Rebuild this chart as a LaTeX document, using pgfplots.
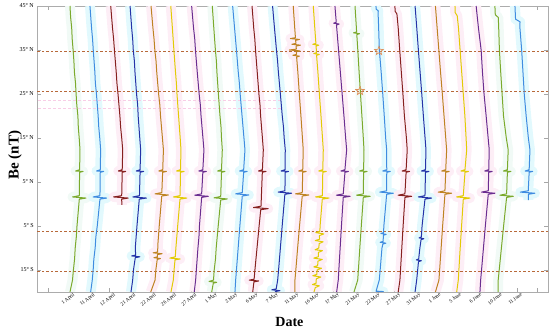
\documentclass[border=0pt]{standalone}
\usepackage{pgfplots}
\usepackage{pgfplotstable}
\pgfplotsset{compat=1.18}
\usepackage{fontspec}
\setmainfont{Liberation Serif}

\definecolor{cgreen}{HTML}{7AAA2C}
\definecolor{clblue}{HTML}{3F8CE0}
\definecolor{cdred}{HTML}{86201F}
\definecolor{cdblue}{HTML}{2434A8}
\definecolor{corange}{HTML}{BE8222}
\definecolor{cyellow}{HTML}{E2CB05}
\definecolor{cpurple}{HTML}{6B2D90}
\definecolor{bcyan}{HTML}{E2F9FD}
\definecolor{bpink}{HTML}{FDEEF6}
\definecolor{bgreen}{HTML}{F1FAF6}
\definecolor{dashcol}{HTML}{B8693A}
\definecolor{pinkdash}{HTML}{F8CDE6}
\definecolor{starcol}{HTML}{E0905A}

\pgfdeclareplotmark{ostar}{%
\pgfpathmoveto{\pgfpointpolar{90}{\pgfplotmarksize}}%
\pgfpathlineto{\pgfpointpolar{126}{0.42*\pgfplotmarksize}}%
\pgfpathlineto{\pgfpointpolar{162}{\pgfplotmarksize}}%
\pgfpathlineto{\pgfpointpolar{198}{0.42*\pgfplotmarksize}}%
\pgfpathlineto{\pgfpointpolar{234}{\pgfplotmarksize}}%
\pgfpathlineto{\pgfpointpolar{270}{0.42*\pgfplotmarksize}}%
\pgfpathlineto{\pgfpointpolar{306}{\pgfplotmarksize}}%
\pgfpathlineto{\pgfpointpolar{342}{0.42*\pgfplotmarksize}}%
\pgfpathlineto{\pgfpointpolar{18}{\pgfplotmarksize}}%
\pgfpathlineto{\pgfpointpolar{54}{0.42*\pgfplotmarksize}}%
\pgfpathclose\pgfusepathqstroke}

% each table: latitude (deg) and horizontal offset of the trace from its date tick (px)
\pgfplotstableread{
lat dx
45 1
42.5 1.6
40 2.7
37.5 3.2
35 4.1
32.5 4.9
30 5.4
27.5 6.5
25 7.1
22.5 7.8
20 8.9
17.5 9.3
15 10.2
12.3 11
7.8 10.6
7.5 6.6
7.4 14.1
7.2 10.6
1.9 10.3
1.6 3.5
1.35 17
1.1 10.3
-5 8
-7.5 7.3
-10 6.2
-12.5 5.6
-15 4.4
-17.3 3.5
-20 1
}\cvA
\pgfplotstableread{
lat dx
45 0.6
40 2.2
37.5 3.2
35 3.9
30 5.5
27.5 6.0
25 7.1
20 8.8
17.5 9.4
15 10.4
12.3 11.3
7.8 10.9
7.5 7.2
7.4 14.3
7.2 10.9
1.9 10.6
1.6 3.8
1.35 17.3
1.1 10.6
-5 7.9
-7.5 6.5
-10 5.8
-12.5 4.5
-15 3.8
-17.3 2.9
-20 1.3
}\cvB
\pgfplotstableread{
lat dx
45 1
40 2.8
37.5 3.9
35 4.7
30 6.5
27.5 7.2
25 8.3
20 10.2
17.5 10.9
15 12
12.3 13
7.8 12.5
7.5 8.6
7.4 16
7.2 12.5
1.9 12
1.6 3.8
1.35 18.5
1.1 12
-0.2 12.1
}\cvC
\pgfplotstableread{
lat dx
45 0
40 1.6
37.5 2.6
35 3.2
32.5 4.3
30 4.9
25 6.5
22.5 7.6
20 8.1
15 9.7
12.3 10.6
7.8 10
7.5 6.2
7.4 13.6
7.2 10
1.9 9.4
1.6 2.8
1.35 16.4
1.1 9.2
-5 6.9
-10 5.2
-11.6 5.6
-11.8 1.6
-12.0 9.8
-12.2 5.2
-15 3.4
-17.3 2.6
-20 0.9
}\cvD
\pgfplotstableread{
lat dx
45 0.6
40 2.5
37.5 3.6
35 4.4
32.5 5.6
30 6.3
25 8.2
22.5 9.4
20 10.1
15 12
12.3 13
7.8 12.3
7.5 8.4
7.4 16
7.2 12.2
2.6 11.4
2.3 4.6
2.05 18
1.8 11.3
-5 8.8
-9 7.5
-10.9 7.2
-11.1 2.7
-11.3 11.7
-11.5 6.9
-12 7
-12.2 3.5
-12.4 10
-12.6 6.8
-15 5.4
-17.3 4.6
-20 0.3
}\cvE
\pgfplotstableread{
lat dx
45 0
40 1.6
35 3.1
30 4.7
27.5 5.6
25 6.2
20 7.8
15 9.4
12.3 10.2
7.8 9.7
7.5 5.8
7.4 13.3
7.2 9.7
1.9 9.3
1.6 2.6
1.35 16
1.1 9.2
-5 6.9
-10 5.1
-12.0 4.5
-12.3 -1
-12.5 9.4
-12.7 4.2
-15 3.3
-17.3 2.5
-20 0.2
}\cvF
\pgfplotstableread{
lat dx
45 0.5
40 2.4
37.5 3.6
35 4.3
30 6.1
25 8.0
22.5 9.2
20 9.9
15 11.8
12.3 12.8
7.8 11.7
7.5 7.7
7.4 15.2
7.2 11.7
2.3 10.5
2.0 3.6
1.75 17.2
1.5 10.5
-5 8.3
-7.5 7.8
-10 6.8
-15 5.2
-17.3 4.5
-20 3.1
}\cvG
\pgfplotstableread{
lat dx
45 0.8
40 2.3
35 3.9
32.5 4.9
30 5.4
25 6.9
20 8.5
17.5 9.5
15 10
12.3 10.8
7.8 10
7.5 6.1
7.4 13.5
7.2 10
1.7 9.2
1.4 2.6
1.15 15.8
0.9 9.2
-5 6.7
-10 4.7
-12.5 4.0
-15 2.7
-17.3 2
-17.6 -2.5
-17.8 5.2
-18 1.8
-20 0.2
}\cvH
\pgfplotstableread{
lat dx
45 0.8
40 2.7
35 4.6
30 6.4
27.5 7.5
25 8.3
20 10.2
15 12.1
12.3 13.1
7.8 11.8
7.5 7.8
7.4 15.3
7.2 11.8
2.6 10.4
2.3 3.8
2.05 17
1.8 10.4
-5 8.0
-10 6.3
-15 4.6
-17.3 3.8
-20 3.1
}\cvI
\pgfplotstableread{
lat dx
45 -0.2
40 1.5
37.5 2.6
35 3.3
30 5.0
25 6.7
22.5 7.8
20 8.4
15 10.2
12.3 11.1
7.8 10.2
7.5 6.3
7.4 13.8
7.2 10.1
-0.5 8.8
-0.8 1.3
-1.05 16
-1.3 8.5
-5 6.9
-10 4.8
-15 2.7
-17.1 1.9
-17.3 -3
-17.5 6.5
-17.7 1.7
-20 0.5
}\cvJ
\pgfplotstableread{
lat dx
45 0
40 1.9
35 3.9
32.5 5.0
30 5.8
25 7.8
20 9.7
17.5 10.9
15 11.6
12.3 12.7
7.8 12.5
7.5 8.5
7.4 16
7.2 12.5
3.0 12.4
2.7 5.6
2.45 19
2.2 12.3
-5 9.6
-10 7.8
-15 6.0
-17.3 5.1
-19.3 3.6
-19.5 -0.8
-19.7 7.4
-19.9 3
-20 2.4
}\cvK
\pgfplotstableread{
lat dx
45 0.3
40 1.8
37.8 2.5
37.6 -2.5
37.4 6.5
37.2 2.7
36.5 3
36.3 -1
36.1 7.5
35.9 3.2
35.2 3.4
35.0 -3.5
34.8 7
34.6 3.5
34.0 3.6
33.8 0
33.6 6.5
33.4 3.7
30 4.9
25 6.4
20 8
15 9.5
12.3 10.3
7.8 9.8
7.5 5.8
7.4 13.3
7.2 9.8
2.6 9.3
2.3 2.5
2.05 16
1.8 9.3
-5 6.6
-10 4.7
-15 2.9
-17.3 2
-20 2
}\cvL
\pgfplotstableread{
lat dx
45 0
40 1.5
36.5 2.6
36.3 -0.5
36.1 5.5
35.9 2.7
35 3.1
34.4 3.2
34.2 0.5
34.0 6
33.8 3.3
30 4.6
25 6.1
20 7.7
15 9.2
12.3 10
7.8 9.5
7.5 5.5
7.4 13
7.2 9.5
1.9 9.1
1.6 2.2
1.35 15.8
1.1 9
-5 6.8
-6.2 6.6
-6.5 2.5
-6.8 10.5
-7.2 6
-8 6.4
-8.3 2
-8.6 9.8
-9 5.8
-10 5.6
-10.4 1.8
-10.6 9.2
-11 5.2
-12 5
-12.3 0.5
-12.6 9
-13 4.6
-14 4.4
-14.3 0.5
-14.6 8.2
-15 3.8
-16 3.6
-16.3 -0.5
-16.6 7.5
-17 3
-18 2.8
-18.3 -0.8
-18.6 6
-19 2
-20 0.7
}\cvM
\pgfplotstableread{
lat dx
45 1.3
41.3 2.6
41.1 0
40.9 5.5
40.7 2.8
40 3.1
35 4.9
30 6.7
25 8.5
20 10.3
15 12.0
12.3 13
7.8 11.3
7.5 7.3
7.4 14.8
7.2 11.3
2.3 9.6
2.0 2.8
1.75 16.5
1.5 9.6
-5 7.8
-10 6.5
-15 5.2
-17.3 4.6
-20 3
}\cvN
\pgfplotstableread{
lat dx
45 1
40 2.4
39.1 2.6
38.9 -0.5
38.7 5.5
38.5 2.8
35 3.8
30 5.1
25 6.5
20 7.9
15 9.3
12.3 10
7.8 9.6
7.5 5.6
7.4 13.1
7.2 9.6
2.3 9.3
2.0 2.5
1.75 16.2
1.5 9.3
-5 7.3
-10 5.8
-15 4.4
-17.3 3.7
-20 0
}\cvO
\pgfplotstableread{
lat dx
45 1.6
44.3 1.8
43.9 3.9
43 3.8
40 4.3
35 5.0
30 6.8
25 8.4
20 9.9
15 11.3
12.3 12.3
7.8 12.4
7.5 8.4
7.4 15.9
7.2 12.4
3.0 12.3
2.7 5.5
2.45 19
2.2 12.3
-5 9.5
-6.5 9.2
-6.7 6.5
-6.9 11.8
-7.1 9
-8.5 8.8
-8.7 5.8
-8.9 11.5
-9.1 8.5
-10 7.6
-15 5.8
-17.3 4.9
-19.6 2
-19.8 1.8
-19.9 9
-20 1.6
}\cvP
\pgfplotstableread{
lat dx
45 0.2
43.8 0.4
43.2 2.2
40 3.5
35 5.0
30 6.6
25 8.2
20 9.7
15 11.7
12.3 12.5
7.8 11.4
7.5 7.4
7.4 14.9
7.2 11.4
2.3 10.2
2.0 3.4
1.75 17
1.5 10.2
-5 8.4
-10 7.1
-15 5.8
-17.3 5.2
-20 3.5
}\cvQ
\pgfplotstableread{
lat dx
45 0
40 1.7
35 3.3
30 5.0
25 6.7
20 8.3
15 10
12.3 10.9
7.8 10.4
7.5 6.4
7.4 13.9
7.2 10.4
1.9 9.9
1.6 3.2
1.35 16.6
1.1 9.9
-5 7.0
-7.5 6.3
-7.7 4
-7.9 8.8
-8.1 6
-10 4.8
-12.5 3.6
-12.7 1.2
-12.9 6.2
-13.1 3.4
-15 2.6
-17.3 1.6
-20 0
}\cvR
\pgfplotstableread{
lat dx
45 0
40 1.7
35 3.4
30 5.1
25 6.9
20 8.6
15 10.3
12.3 11.2
7.8 10.3
7.5 6.3
7.4 13.8
7.2 10.3
3.0 9.5
2.7 2.8
2.45 16.2
2.2 9.5
-5 7.2
-10 5.7
-15 4.2
-17.3 3.5
-20 0
}\cvS
\pgfplotstableread{
lat dx
45 -0.8
43.5 -0.6
42.8 1.4
42 1.8
40 2.7
35 4.3
30 5.9
25 7.5
20 9.1
15 10.3
12.3 10.9
7.8 9.2
7.5 5.2
7.4 12.7
7.2 9.2
1.9 7.5
1.6 0.8
1.35 14.2
1.1 7.5
-5 5.8
-10 4.4
-15 3.1
-17.3 2.5
-20 0.9
}\cvT
\pgfplotstableread{
lat dx
45 0
40 2.3
35 5
30 6.3
25 7.9
20 10
15 12
12.3 13.1
7.8 12.6
7.5 8.6
7.4 16.1
7.2 12.6
3.0 12.1
2.7 5.4
2.45 18.8
2.2 12.1
-5 9.2
-10 7.3
-15 5.4
-17.3 4.5
-20 3.8
}\cvU
\pgfplotstableread{
lat dx
45 -1.6
43 -1.2
42.4 1.8
40 2.2
35 2.9
30 4.2
25 5.6
20 7.0
15 9.8
12.3 11.7
7.8 10.9
7.5 6.9
7.4 14.4
7.2 10.9
2.3 10.1
2.0 3.4
1.75 16.8
1.5 10.1
-5 7.1
-10 4.9
-15 2.7
-17.3 1.7
-20 1.7
}\cvV
\pgfplotstableread{
lat dx
45 -1.9
42 -1.3
41.4 3.2
40.5 2.9
35 4.8
30 6.1
25 7.4
20 9.3
15 11.5
12.3 13.1
7.8 12.3
7.5 8.3
7.4 15.8
7.2 12.3
3.0 11.4
2.7 3.5
2.45 18
2.2 11.4
0.9 11.5
}\cvW

\newcommand{\band}[3]{\addplot[draw=#2, line width=10pt, line join=round, mark=none, forget plot] table[x expr=#1+\thisrow{dx}/20.36, y=lat] {#3};}
\newcommand{\trace}[3]{\addplot[draw=#2, line width=1pt, line join=round, mark=none, forget plot] table[x expr=#1+\thisrow{dx}/20.36, y=lat] {#3};}

\begin{document}
\begin{tikzpicture}
\begin{axis}[
  name=ax,
  scale only axis,
  width=511pt, height=286pt,
  xmin=-0.572, xmax=24.53,
  ymin=-20, ymax=45,
  xtick={0,...,24},
  xticklabels={,1 April,11 April,12 April,21 April,22 April,26 April,27 April,1 May,2 May,6 May,7 May,11 May,16 May,17 May,21 May,22 May,27 May,31 May,1 June,5 June,6 June,10 June,11 June,},
  ytick={-15,-5,5,15,25,35,45},
  yticklabels={15° S,5° S,5° N,15° N,25° N,35° N,45° N},
  tick align=inside,
  major tick length=4pt,
  every tick/.style={gray!70, line width=0.5pt},
  axis line style={gray!65, line width=0.6pt},
  x tick label style={font=\fontsize{5.2}{6}\selectfont, rotate=38, anchor=north east, inner sep=0.3pt, xshift=3pt, yshift=-2pt},
  y tick label style={font=\fontsize{6}{7}\selectfont, inner sep=1pt, xshift=-2pt},
  xlabel={Date},
  xlabel style={font=\fontsize{14}{16}\selectfont\bfseries, at={(axis description cs:0.494,0)}, anchor=center, yshift=-30pt},
  ylabel={Be (nT)},
  ylabel style={font=\fontsize{15}{17}\selectfont\bfseries, at={(axis description cs:0,0.478)}, anchor=center, yshift=22pt},
]
% background bands
\band{1}{bgreen}{\cvA}
\band{2}{bcyan}{\cvB}
\band{3}{bpink}{\cvC}
\band{4}{bcyan}{\cvD}
\band{5}{bpink}{\cvE}
\band{6}{bpink}{\cvF}
\band{7}{bpink}{\cvG}
\band{8}{bgreen}{\cvH}
\band{9}{bcyan}{\cvI}
\band{10}{bpink}{\cvJ}
\band{11}{bcyan}{\cvK}
\band{12}{bpink}{\cvL}
\band{13}{bpink}{\cvM}
\band{14}{bpink}{\cvN}
\band{15}{bgreen}{\cvO}
\band{16}{bcyan}{\cvP}
\band{17}{bpink}{\cvQ}
\band{18}{bcyan}{\cvR}
\band{19}{bpink}{\cvS}
\band{20}{bpink}{\cvT}
\band{21}{bpink}{\cvU}
\band{22}{bgreen}{\cvV}
\band{23}{bcyan}{\cvW}
% reference latitude lines
\addplot[draw=pinkdash, line width=0.6pt, dash pattern=on 3pt off 2pt, mark=none, forget plot] coordinates {(-1,23.6) (11.4,23.6)};
\addplot[draw=pinkdash, line width=0.6pt, dash pattern=on 3pt off 2pt, mark=none, forget plot] coordinates {(-1,21.8) (11.4,21.8)};
\addplot[draw=dashcol, line width=0.7pt, dash pattern=on 2.5pt off 2pt, mark=none, forget plot] coordinates {(-1,34.8) (25,34.8)};
\addplot[draw=dashcol, line width=0.7pt, dash pattern=on 2.5pt off 2pt, mark=none, forget plot] coordinates {(-1,25.7) (25,25.7)};
\addplot[draw=dashcol, line width=0.7pt, dash pattern=on 2.5pt off 2pt, mark=none, forget plot] coordinates {(-1,-6.2) (25,-6.2)};
\addplot[draw=dashcol, line width=0.7pt, dash pattern=on 2.5pt off 2pt, mark=none, forget plot] coordinates {(-1,-15.2) (25,-15.2)};
% traces
\trace{1}{cgreen}{\cvA}
\trace{2}{clblue}{\cvB}
\trace{3}{cdred}{\cvC}
\trace{4}{cdblue}{\cvD}
\trace{5}{corange}{\cvE}
\trace{6}{cyellow}{\cvF}
\trace{7}{cpurple}{\cvG}
\trace{8}{cgreen}{\cvH}
\trace{9}{clblue}{\cvI}
\trace{10}{cdred}{\cvJ}
\trace{11}{cdblue}{\cvK}
\trace{12}{corange}{\cvL}
\trace{13}{cyellow}{\cvM}
\trace{14}{cpurple}{\cvN}
\trace{15}{cgreen}{\cvO}
\trace{16}{clblue}{\cvP}
\trace{17}{cdred}{\cvQ}
\trace{18}{cdblue}{\cvR}
\trace{19}{corange}{\cvS}
\trace{20}{cyellow}{\cvT}
\trace{21}{cpurple}{\cvU}
\trace{22}{cgreen}{\cvV}
\trace{23}{clblue}{\cvW}
% star markers
\addplot[only marks, mark=ostar, mark size=4.5pt, draw=starcol, mark options={line width=0.7pt}, forget plot]
  table[x expr=\thisrow{k}+\thisrow{dx}/20.36, y=lat, row sep=\\] {k dx lat\\ 15 6 25.7\\ 16 4.6 34.8\\};
\end{axis}
\pgfresetboundingbox
\path ([xshift=-37pt,yshift=-40pt]ax.south west) rectangle ([xshift=2pt,yshift=6pt]ax.north east);
\end{tikzpicture}
\end{document}
